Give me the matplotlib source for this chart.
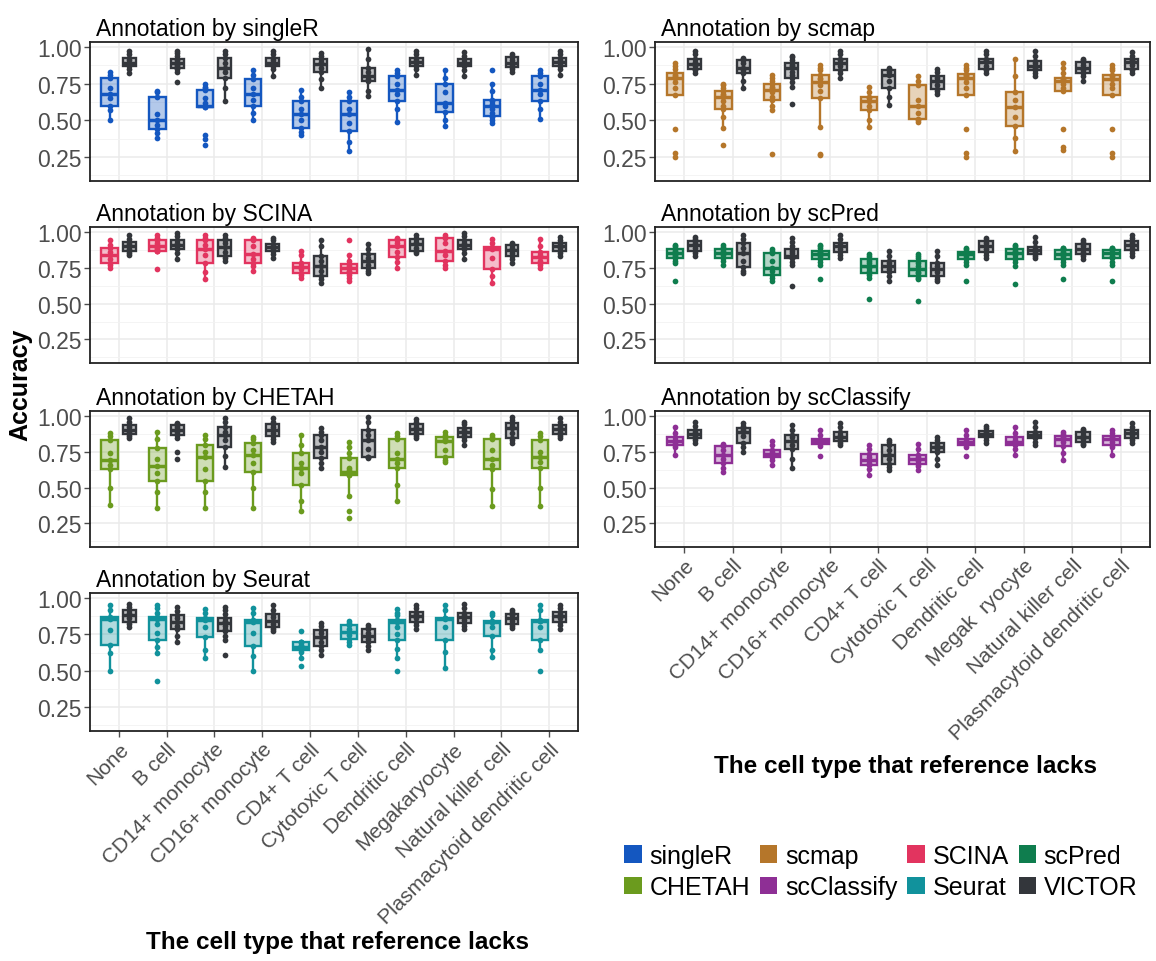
import numpy as np
import matplotlib.pyplot as plt
from matplotlib.patches import Patch
from matplotlib.colors import to_rgba

plt.rcParams['font.family'] = ['Liberation Sans', 'DejaVu Sans']

# cell type left out of the reference
cell_types = ['None', 'B cell', 'CD14+ monocyte', 'CD16+ monocyte', 'CD4+ T cell',
              'Cytotoxic T cell', 'Dendritic cell', 'Megakaryocyte', 'Natural killer cell',
              'Plasmacytoid dendritic cell']
cell_types_right = cell_types[:7] + ['Megak  ryocyte'] + cell_types[8:]

# accuracy per run, one list per cell type (method, then VICTOR on top of it)
singleR_acc = [
    [0.50, 0.57, 0.60, 0.65, 0.68, 0.72, 0.79, 0.81, 0.83],
    [0.38, 0.41, 0.44, 0.47, 0.50, 0.54, 0.66, 0.69, 0.70],
    [0.33, 0.37, 0.40, 0.59, 0.59, 0.60, 0.60, 0.62, 0.65, 0.71, 0.72, 0.73, 0.745],
    [0.50, 0.55, 0.60, 0.64, 0.68, 0.72, 0.78, 0.81, 0.84],
    [0.40, 0.42, 0.45, 0.50, 0.54, 0.58, 0.63, 0.66, 0.71],
    [0.29, 0.35, 0.43, 0.48, 0.54, 0.58, 0.63, 0.66, 0.69],
    [0.49, 0.58, 0.63, 0.68, 0.71, 0.75, 0.80, 0.82, 0.84],
    [0.46, 0.50, 0.56, 0.60, 0.62, 0.69, 0.75, 0.79, 0.84],
    [0.48, 0.50, 0.52, 0.53, 0.55, 0.58, 0.60, 0.61, 0.63, 0.64, 0.70, 0.745, 0.84],
    [0.51, 0.58, 0.63, 0.68, 0.71, 0.75, 0.80, 0.82, 0.84],
]
singleR_victor = [
    [0.82, 0.85, 0.87, 0.88, 0.89, 0.91, 0.925, 0.95, 0.97],
    [0.76, 0.83, 0.85, 0.86, 0.87, 0.88, 0.89, 0.90, 0.91, 0.92, 0.94, 0.96, 0.97],
    [0.63, 0.72, 0.79, 0.83, 0.86, 0.89, 0.925, 0.95, 0.975],
    [0.80, 0.85, 0.87, 0.88, 0.89, 0.91, 0.925, 0.95, 0.97],
    [0.72, 0.78, 0.83, 0.86, 0.885, 0.90, 0.92, 0.94, 0.96],
    [0.665, 0.70, 0.765, 0.78, 0.80, 0.83, 0.855, 0.92, 0.985],
    [0.81, 0.85, 0.87, 0.89, 0.90, 0.91, 0.925, 0.95, 0.97],
    [0.80, 0.84, 0.87, 0.88, 0.89, 0.90, 0.92, 0.94, 0.965],
    [0.83, 0.85, 0.865, 0.88, 0.89, 0.91, 0.93, 0.94, 0.95],
    [0.81, 0.85, 0.87, 0.89, 0.90, 0.91, 0.925, 0.95, 0.97],
]

scmap_acc = [
    [0.25, 0.28, 0.44, 0.67, 0.72, 0.76, 0.79, 0.80, 0.81, 0.82, 0.85, 0.87, 0.89],
    [0.33, 0.45, 0.52, 0.58, 0.60, 0.63, 0.66, 0.67, 0.68, 0.70, 0.72, 0.74, 0.75],
    [0.27, 0.57, 0.60, 0.64, 0.66, 0.69, 0.71, 0.72, 0.73, 0.75, 0.77, 0.79, 0.81],
    [0.26, 0.27, 0.455, 0.65, 0.70, 0.74, 0.76, 0.78, 0.79, 0.81, 0.84, 0.86, 0.88],
    [0.455, 0.50, 0.57, 0.60, 0.63, 0.65, 0.66, 0.69, 0.725],
    [0.485, 0.50, 0.51, 0.55, 0.60, 0.64, 0.74, 0.77, 0.80],
    [0.25, 0.28, 0.44, 0.67, 0.72, 0.76, 0.79, 0.80, 0.81, 0.815, 0.84, 0.86, 0.88],
    [0.29, 0.38, 0.46, 0.52, 0.59, 0.64, 0.69, 0.80, 0.92],
    [0.30, 0.32, 0.44, 0.70, 0.72, 0.75, 0.77, 0.775, 0.78, 0.79, 0.82, 0.86, 0.89],
    [0.25, 0.28, 0.44, 0.67, 0.72, 0.75, 0.78, 0.79, 0.80, 0.81, 0.84, 0.86, 0.88],
]
scmap_victor = [
    [0.825, 0.84, 0.85, 0.87, 0.885, 0.90, 0.92, 0.95, 0.975],
    [0.72, 0.77, 0.82, 0.84, 0.86, 0.89, 0.91, 0.92, 0.925],
    [0.61, 0.73, 0.76, 0.79, 0.81, 0.83, 0.86, 0.87, 0.88, 0.89, 0.91, 0.93, 0.94],
    [0.79, 0.82, 0.84, 0.87, 0.89, 0.91, 0.92, 0.95, 0.975],
    [0.605, 0.66, 0.72, 0.77, 0.81, 0.83, 0.84, 0.85, 0.855],
    [0.68, 0.70, 0.715, 0.74, 0.77, 0.79, 0.80, 0.83, 0.85],
    [0.825, 0.84, 0.85, 0.87, 0.895, 0.91, 0.92, 0.95, 0.975],
    [0.80, 0.82, 0.84, 0.86, 0.87, 0.89, 0.905, 0.94, 0.975],
    [0.77, 0.80, 0.825, 0.84, 0.86, 0.88, 0.895, 0.91, 0.92],
    [0.825, 0.84, 0.85, 0.88, 0.90, 0.91, 0.92, 0.94, 0.965],
]

scina_acc = [
    [0.75, 0.77, 0.78, 0.81, 0.84, 0.86, 0.885, 0.91, 0.94],
    [0.74, 0.865, 0.865, 0.87, 0.88, 0.89, 0.905, 0.91, 0.92, 0.94, 0.95, 0.96, 0.975],
    [0.67, 0.72, 0.785, 0.84, 0.88, 0.91, 0.94, 0.96, 0.975],
    [0.725, 0.76, 0.785, 0.81, 0.845, 0.90, 0.94, 0.95, 0.96],
    [0.68, 0.70, 0.715, 0.74, 0.755, 0.76, 0.78, 0.84, 0.87],
    [0.655, 0.68, 0.70, 0.715, 0.72, 0.73, 0.745, 0.75, 0.76, 0.775, 0.80, 0.84, 0.94],
    [0.75, 0.79, 0.825, 0.86, 0.90, 0.92, 0.94, 0.95, 0.96],
    [0.75, 0.77, 0.80, 0.84, 0.865, 0.92, 0.955, 0.965, 0.975],
    [0.645, 0.69, 0.74, 0.82, 0.88, 0.89, 0.895, 0.92, 0.95],
    [0.75, 0.77, 0.785, 0.80, 0.825, 0.84, 0.86, 0.90, 0.95],
]
scina_victor = [
    [0.84, 0.855, 0.867, 0.88, 0.90, 0.915, 0.93, 0.95, 0.975],
    [0.81, 0.85, 0.88, 0.89, 0.91, 0.92, 0.94, 0.97, 0.995],
    [0.80, 0.815, 0.83, 0.86, 0.895, 0.92, 0.94, 0.96, 0.975],
    [0.82, 0.845, 0.867, 0.88, 0.895, 0.905, 0.918, 0.94, 0.96],
    [0.645, 0.67, 0.69, 0.73, 0.76, 0.80, 0.835, 0.90, 0.94],
    [0.715, 0.73, 0.75, 0.77, 0.80, 0.82, 0.848, 0.88, 0.913],
    [0.855, 0.865, 0.87, 0.89, 0.915, 0.93, 0.95, 0.96, 0.975],
    [0.81, 0.85, 0.88, 0.895, 0.91, 0.92, 0.94, 0.97, 0.99],
    [0.785, 0.81, 0.83, 0.855, 0.875, 0.89, 0.91, 0.915, 0.92],
    [0.83, 0.85, 0.87, 0.885, 0.90, 0.91, 0.925, 0.945, 0.965],
]

scpred_acc = [
    [0.66, 0.785, 0.80, 0.815, 0.83, 0.84, 0.855, 0.86, 0.87, 0.88, 0.89, 0.90, 0.91],
    [0.77, 0.80, 0.82, 0.84, 0.855, 0.865, 0.88, 0.895, 0.91],
    [0.66, 0.68, 0.70, 0.73, 0.75, 0.80, 0.85, 0.87, 0.88],
    [0.675, 0.77, 0.79, 0.81, 0.82, 0.83, 0.845, 0.85, 0.86, 0.87, 0.89, 0.90, 0.91],
    [0.53, 0.68, 0.70, 0.715, 0.73, 0.75, 0.765, 0.78, 0.80, 0.81, 0.82, 0.83, 0.845],
    [0.515, 0.67, 0.68, 0.69, 0.71, 0.72, 0.74, 0.76, 0.78, 0.80, 0.82, 0.83, 0.845],
    [0.66, 0.77, 0.79, 0.81, 0.82, 0.83, 0.845, 0.85, 0.855, 0.863, 0.87, 0.88, 0.89],
    [0.635, 0.765, 0.79, 0.81, 0.82, 0.84, 0.855, 0.86, 0.87, 0.88, 0.89, 0.90, 0.91],
    [0.67, 0.77, 0.79, 0.81, 0.82, 0.83, 0.845, 0.85, 0.86, 0.872, 0.88, 0.885, 0.89],
    [0.66, 0.77, 0.79, 0.815, 0.825, 0.835, 0.85, 0.855, 0.86, 0.872, 0.88, 0.885, 0.89],
]
scpred_victor = [
    [0.83, 0.85, 0.867, 0.89, 0.91, 0.92, 0.937, 0.95, 0.965],
    [0.715, 0.73, 0.755, 0.80, 0.855, 0.89, 0.92, 0.95, 0.975],
    [0.62, 0.77, 0.79, 0.815, 0.82, 0.825, 0.833, 0.85, 0.865, 0.88, 0.90, 0.93, 0.96],
    [0.815, 0.84, 0.86, 0.88, 0.90, 0.91, 0.925, 0.95, 0.975],
    [0.66, 0.69, 0.72, 0.74, 0.765, 0.78, 0.80, 0.83, 0.865],
    [0.66, 0.675, 0.695, 0.72, 0.74, 0.76, 0.785, 0.83, 0.865],
    [0.815, 0.84, 0.863, 0.88, 0.90, 0.92, 0.937, 0.945, 0.955],
    [0.815, 0.83, 0.845, 0.86, 0.872, 0.88, 0.895, 0.93, 0.965],
    [0.81, 0.83, 0.845, 0.86, 0.88, 0.90, 0.914, 0.93, 0.94],
    [0.83, 0.85, 0.872, 0.89, 0.91, 0.92, 0.937, 0.955, 0.975],
]

chetah_acc = [
    [0.38, 0.50, 0.63, 0.66, 0.695, 0.74, 0.83, 0.86, 0.88],
    [0.355, 0.47, 0.545, 0.60, 0.65, 0.70, 0.775, 0.84, 0.885],
    [0.355, 0.47, 0.545, 0.63, 0.71, 0.75, 0.80, 0.84, 0.865],
    [0.355, 0.50, 0.61, 0.67, 0.73, 0.76, 0.81, 0.84, 0.855],
    [0.34, 0.41, 0.52, 0.60, 0.64, 0.67, 0.74, 0.80, 0.865],
    [0.29, 0.34, 0.44, 0.585, 0.59, 0.60, 0.61, 0.62, 0.64, 0.705, 0.74, 0.78, 0.82],
    [0.41, 0.52, 0.64, 0.67, 0.70, 0.74, 0.84, 0.86, 0.88],
    [0.68, 0.69, 0.71, 0.76, 0.825, 0.84, 0.855, 0.87, 0.885],
    [0.37, 0.49, 0.63, 0.66, 0.70, 0.76, 0.84, 0.855, 0.865],
    [0.37, 0.50, 0.635, 0.68, 0.715, 0.75, 0.83, 0.86, 0.88],
]
chetah_victor = [
    [0.845, 0.86, 0.872, 0.89, 0.90, 0.92, 0.937, 0.96, 0.985],
    [0.70, 0.745, 0.845, 0.87, 0.875, 0.89, 0.905, 0.91, 0.92, 0.937, 0.94, 0.945, 0.95],
    [0.645, 0.72, 0.78, 0.83, 0.865, 0.89, 0.925, 0.96, 0.985],
    [0.82, 0.84, 0.862, 0.88, 0.90, 0.92, 0.942, 0.96, 0.985],
    [0.635, 0.67, 0.705, 0.75, 0.785, 0.83, 0.867, 0.89, 0.918],
    [0.705, 0.71, 0.716, 0.77, 0.83, 0.87, 0.90, 0.96, 0.99],
    [0.845, 0.86, 0.872, 0.89, 0.91, 0.925, 0.942, 0.96, 0.98],
    [0.80, 0.83, 0.855, 0.87, 0.886, 0.90, 0.918, 0.94, 0.96],
    [0.81, 0.83, 0.848, 0.88, 0.914, 0.93, 0.953, 0.97, 0.99],
    [0.845, 0.86, 0.872, 0.89, 0.91, 0.925, 0.937, 0.96, 0.985],
]

scclassify_acc = [
    [0.73, 0.78, 0.80, 0.81, 0.823, 0.83, 0.85, 0.88, 0.92],
    [0.61, 0.64, 0.675, 0.70, 0.725, 0.76, 0.787, 0.80, 0.805],
    [0.655, 0.69, 0.71, 0.72, 0.735, 0.745, 0.76, 0.80, 0.828],
    [0.72, 0.79, 0.805, 0.815, 0.823, 0.83, 0.84, 0.87, 0.905],
    [0.59, 0.63, 0.655, 0.675, 0.69, 0.71, 0.736, 0.77, 0.795],
    [0.625, 0.65, 0.667, 0.685, 0.70, 0.715, 0.73, 0.77, 0.805],
    [0.72, 0.78, 0.795, 0.81, 0.817, 0.825, 0.84, 0.87, 0.905],
    [0.725, 0.77, 0.794, 0.81, 0.82, 0.835, 0.851, 0.88, 0.92],
    [0.69, 0.74, 0.787, 0.82, 0.84, 0.85, 0.862, 0.875, 0.885],
    [0.725, 0.78, 0.80, 0.82, 0.84, 0.85, 0.862, 0.88, 0.905],
]
scclassify_victor = [
    [0.81, 0.83, 0.846, 0.86, 0.875, 0.89, 0.90, 0.93, 0.955],
    [0.745, 0.78, 0.81, 0.86, 0.885, 0.90, 0.913, 0.93, 0.947],
    [0.64, 0.70, 0.766, 0.80, 0.828, 0.85, 0.87, 0.90, 0.935],
    [0.795, 0.81, 0.823, 0.84, 0.85, 0.87, 0.885, 0.92, 0.947],
    [0.62, 0.645, 0.667, 0.70, 0.725, 0.76, 0.794, 0.815, 0.833],
    [0.655, 0.70, 0.748, 0.77, 0.782, 0.795, 0.81, 0.835, 0.855],
    [0.81, 0.83, 0.851, 0.865, 0.874, 0.885, 0.897, 0.915, 0.93],
    [0.795, 0.82, 0.846, 0.86, 0.87, 0.88, 0.89, 0.92, 0.954],
    [0.795, 0.805, 0.815, 0.84, 0.855, 0.87, 0.885, 0.90, 0.908],
    [0.81, 0.83, 0.846, 0.865, 0.88, 0.89, 0.90, 0.925, 0.947],
]

seurat_acc = [
    [0.50, 0.62, 0.68, 0.78, 0.855, 0.86, 0.87, 0.92, 0.95],
    [0.43, 0.62, 0.66, 0.71, 0.76, 0.82, 0.855, 0.86, 0.865, 0.87, 0.90, 0.93, 0.95],
    [0.585, 0.64, 0.73, 0.80, 0.85, 0.855, 0.86, 0.90, 0.925],
    [0.495, 0.60, 0.672, 0.76, 0.835, 0.84, 0.847, 0.90, 0.93],
    [0.53, 0.59, 0.63, 0.645, 0.65, 0.66, 0.665, 0.67, 0.68, 0.695, 0.70, 0.70, 0.775],
    [0.68, 0.70, 0.72, 0.745, 0.768, 0.79, 0.813, 0.83, 0.845],
    [0.50, 0.585, 0.65, 0.71, 0.75, 0.80, 0.835, 0.84, 0.845, 0.847, 0.88, 0.90, 0.925],
    [0.52, 0.63, 0.71, 0.80, 0.855, 0.86, 0.863, 0.92, 0.95],
    [0.595, 0.64, 0.74, 0.80, 0.835, 0.838, 0.84, 0.88, 0.90],
    [0.50, 0.64, 0.71, 0.80, 0.84, 0.845, 0.847, 0.92, 0.95],
]
seurat_victor = [
    [0.80, 0.82, 0.836, 0.86, 0.88, 0.90, 0.916, 0.94, 0.96],
    [0.70, 0.74, 0.786, 0.81, 0.835, 0.86, 0.88, 0.91, 0.94],
    [0.61, 0.71, 0.74, 0.77, 0.79, 0.81, 0.825, 0.835, 0.845, 0.86, 0.89, 0.92, 0.94],
    [0.77, 0.785, 0.80, 0.82, 0.84, 0.87, 0.893, 0.92, 0.95],
    [0.61, 0.64, 0.672, 0.70, 0.733, 0.76, 0.783, 0.81, 0.83],
    [0.642, 0.67, 0.695, 0.72, 0.74, 0.76, 0.786, 0.80, 0.813],
    [0.79, 0.815, 0.836, 0.86, 0.877, 0.89, 0.904, 0.93, 0.95],
    [0.79, 0.81, 0.825, 0.85, 0.87, 0.885, 0.90, 0.93, 0.96],
    [0.795, 0.805, 0.818, 0.84, 0.863, 0.88, 0.893, 0.905, 0.915],
    [0.79, 0.815, 0.836, 0.86, 0.877, 0.89, 0.904, 0.93, 0.95],
]

method_colors = {
    'singleR': '#1457c0', 'scmap': '#b5762a', 'SCINA': '#e2345f', 'scPred': '#0f7d4e',
    'CHETAH': '#6b9b1e', 'scClassify': '#8e2f95', 'Seurat': '#11929c', 'VICTOR': '#33363b',
}

# (name, method values, VICTOR values, column, row)
panels = [
    ('singleR', singleR_acc, singleR_victor, 0, 0),
    ('SCINA', scina_acc, scina_victor, 0, 1),
    ('CHETAH', chetah_acc, chetah_victor, 0, 2),
    ('Seurat', seurat_acc, seurat_victor, 0, 3),
    ('scmap', scmap_acc, scmap_victor, 1, 0),
    ('scPred', scpred_acc, scpred_victor, 1, 1),
    ('scClassify', scclassify_acc, scclassify_victor, 1, 2),
]

W, H = 1156, 962
fig = plt.figure(figsize=(W / 100, H / 100), dpi=100)

col_x = [(90, 578), (655, 1150)]
row_y = [(43, 182), (228, 364), (412, 548), (594, 732)]


def draw_boxes(ax, data, positions, width, color):
    ax.boxplot(data, positions=positions, widths=width, patch_artist=True,
               showfliers=False, showcaps=False, whis=1.5, manage_ticks=False,
               boxprops=dict(facecolor=to_rgba(color, 0.32), edgecolor=color, linewidth=1.7),
               whiskerprops=dict(color=color, linewidth=1.7),
               medianprops=dict(color=color, linewidth=2.5))
    for p, vals in zip(positions, data):
        ax.scatter(np.full(len(vals), p), vals, s=17, color=color, linewidths=0, zorder=4)


for name, acc, vic, col, row in panels:
    x0, x1 = col_x[col]
    y0, y1 = row_y[row]
    ax = fig.add_axes([x0 / W, 1 - y1 / H, (x1 - x0) / W, (y1 - y0) / H])
    xs = np.arange(1, len(cell_types) + 1)
    draw_boxes(ax, acc, xs - 0.19, 0.34, method_colors[name])
    draw_boxes(ax, vic, xs + 0.22, 0.27, method_colors['VICTOR'])

    ax.set_xlim(0.4, 10.6)
    ax.set_ylim(0.086, 1.034)
    ax.set_yticks([0.25, 0.5, 0.75, 1.0])
    ax.set_yticklabels(['0.25', '0.50', '0.75', '1.00'])
    ax.set_yticks([0.125, 0.375, 0.625, 0.875], minor=True)
    ax.set_xticks(xs)
    ax.grid(True, which='major', color='#ebebeb', linewidth=1.1, zorder=0)
    ax.grid(True, which='minor', axis='y', color='#f2f2f2', linewidth=0.6, zorder=0)
    ax.set_axisbelow(True)
    for s in ax.spines.values():
        s.set_color('#222222')
        s.set_linewidth(1.3)
    ax.tick_params(axis='y', which='major', labelsize=16.5, colors='#4d4d4d', length=4, width=1, pad=2)
    ax.tick_params(axis='y', which='minor', length=0)
    ax.set_title(f'Annotation by {name}', loc='left', fontsize=16.5, pad=5, x=0.012)

    last = (col == 0 and row == 3) or (col == 1 and row == 2)
    if last:
        labels = cell_types if col == 0 else cell_types_right
        ax.set_xticklabels(labels, rotation=45, ha='right', rotation_mode='anchor')
        ax.tick_params(axis='x', labelsize=15, colors='#4d4d4d', length=4, width=1, pad=2)
    else:
        ax.set_xticklabels([])
        ax.tick_params(axis='x', length=0)

fig.text(0.018, 0.6, 'Accuracy', rotation=90, ha='center', va='center',
         fontsize=18, fontweight='bold')
fig.text(0.292, 0.02, 'The cell type that reference lacks', ha='center', va='center',
         fontsize=17.5, fontweight='bold')
fig.text(0.783, 0.203, 'The cell type that reference lacks', ha='center', va='center',
         fontsize=17.5, fontweight='bold')

legend_order = ['singleR', 'CHETAH', 'scmap', 'scClassify', 'SCINA', 'Seurat', 'scPred', 'VICTOR']
handles = [Patch(facecolor=method_colors[m], edgecolor='none') for m in legend_order]
fig.legend(handles, legend_order, loc='center', bbox_to_anchor=(0.762, 0.093), ncol=4,
           frameon=False, fontsize=18, handlelength=0.7, handleheight=0.7,
           handletextpad=0.3, columnspacing=0.4, labelspacing=0.3)

fig.savefig('out.png', dpi=100)
